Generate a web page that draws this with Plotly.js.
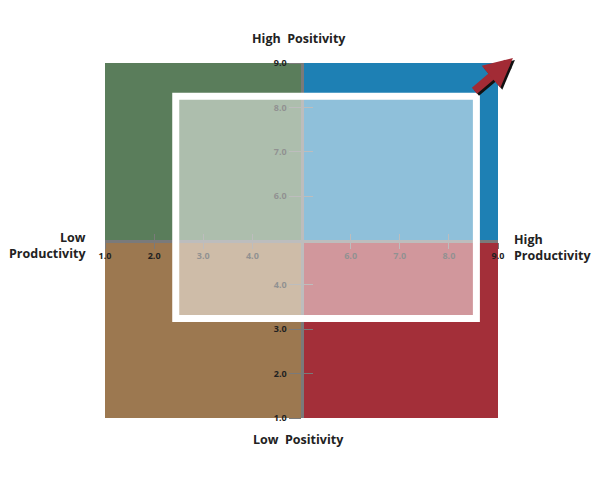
<!DOCTYPE html>
<html>
<head>
<meta charset="utf-8">
<script src="https://cdn.plot.ly/plotly-3.0.1.min.js"></script>
<style>
  html, body { margin: 0; padding: 0; background: #fff; }
  #gd { width: 600px; height: 480px; }
</style>
</head>
<body>
<div id="gd"></div>
<script>
// quadrants: low/high productivity (x) against low/high positivity (y)
var quadNames = ["Low Prod / High Pos", "High Prod / High Pos", "Low Prod / Low Pos", "High Prod / Low Pos"];
var quadX0 = [1, 5, 1, 5];
var quadX1 = [5, 9, 5, 9];
var quadY0 = [5, 5, 1, 1];
var quadY1 = [9, 9, 5, 5];
var quadColors = ["#5a7d5b", "#1e80b4", "#9c7850", "#a32f39"];

// highlighted region
var focusX = [2.44, 8.56];
var focusY = [3.24, 8.25];

// ticks (5.0 sits at the crossing and is not labelled)
var tickVals = [1, 2, 3, 4, 6, 7, 8, 9];
var tickText = ["1.0", "2.0", "3.0", "4.0", "6.0", "7.0", "8.0", "9.0"];

var fontFam = "Open Sans, sans-serif";
var axisGray = "#7a7a7a";

var shapes = quadNames.map(function (n, i) {
  return {
    type: "rect", xref: "x", yref: "y", layer: "below",
    x0: quadX0[i], x1: quadX1[i], y0: quadY0[i], y1: quadY1[i],
    fillcolor: quadColors[i], line: {width: 0}
  };
});
shapes.push({
  type: "rect", xref: "x", yref: "y", layer: "above",
  x0: focusX[0], x1: focusX[1], y0: focusY[0], y1: focusY[1],
  fillcolor: "rgba(255,255,255,0.5)", line: {color: "#ffffff", width: 7}
});

var data = [
  {x: [], y: [], type: "scatter", mode: "markers", hoverinfo: "skip", showlegend: false},
  {x: [], y: [], xaxis: "x2", yaxis: "y2", type: "scatter", mode: "markers", hoverinfo: "skip", showlegend: false}
];

var baseAxis = {
  range: [1, 9], showgrid: false, zeroline: false,
  tickvals: tickVals, ticktext: tickText,
  tickfont: {family: fontFam, size: 9, color: "#222", weight: "bold"},
  tickcolor: axisGray, tickwidth: 1,
  anchor: "free", position: 0.5, fixedrange: true
};

var titleFont = {family: fontFam, size: 12.5, color: "#222", weight: "bold"};

var layout = {
  width: 600, height: 480,
  margin: {l: 105, r: 102, t: 63, b: 62},
  paper_bgcolor: "#fff", plot_bgcolor: "rgba(0,0,0,0)",
  showlegend: false,
  xaxis: Object.assign({}, baseAxis, {
    showline: true, linecolor: axisGray, linewidth: 3,
    ticks: "outside", ticklen: 6
  }),
  yaxis: Object.assign({}, baseAxis, {
    showline: true, linecolor: axisGray, linewidth: 3,
    ticks: "outside", ticklen: 12
  }),
  xaxis2: Object.assign({}, baseAxis, {
    overlaying: "x", showline: false, showticklabels: false,
    ticks: "inside", ticklen: 7
  }),
  yaxis2: Object.assign({}, baseAxis, {
    overlaying: "y", showline: false, showticklabels: false,
    ticks: "inside", ticklen: 10
  }),
  shapes: shapes,
  annotations: [
    {text: "High  Positivity", xref: "paper", yref: "paper", x: 0.5, y: 1, xshift: -3, yshift: 25,
     yanchor: "middle", showarrow: false, font: titleFont},
    {text: "Low  Positivity", xref: "paper", yref: "paper", x: 0.5, y: 0, xshift: -3, yshift: -21,
     yanchor: "middle", showarrow: false, font: titleFont},
    {text: "Low<br>Productivity", xref: "paper", yref: "paper", x: 0, y: 0.5, xshift: -17, yshift: -5,
     xanchor: "right", align: "right", showarrow: false, font: titleFont},
    {text: "High<br>Productivity", xref: "paper", yref: "paper", x: 1, y: 0.5, xshift: 14, yshift: -7,
     xanchor: "left", align: "left", showarrow: false, font: titleFont},
    // arrow shadow then arrow
    {text: "", xref: "paper", yref: "paper", x: 1.038, y: 1.014, xshift: 2, yshift: -2,
     ax: -40, ay: 34, showarrow: true, arrowhead: 2, arrowsize: 0.72, arrowwidth: 8, arrowcolor: "#111"},
    {text: "", xref: "paper", yref: "paper", x: 1.038, y: 1.014,
     ax: -40, ay: 34, showarrow: true, arrowhead: 2, arrowsize: 0.72, arrowwidth: 8, arrowcolor: "#a22b35"}
  ]
};

Plotly.newPlot("gd", data, layout, {displayModeBar: false, staticPlot: true});
</script>
</body>
</html>
